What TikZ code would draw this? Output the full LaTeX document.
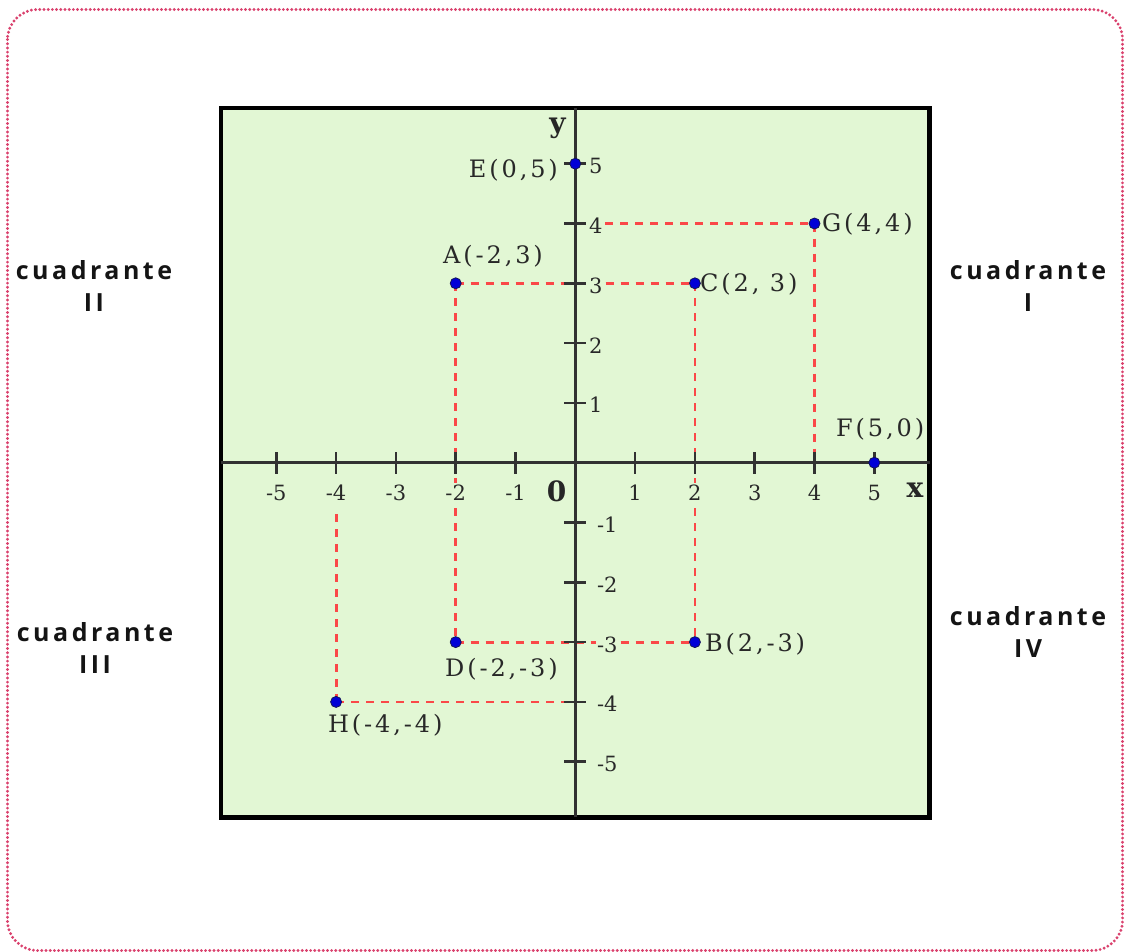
\documentclass[tikz,border=0pt]{standalone}
\usepackage{fontspec}
\newfontfamily\quadfont[LetterSpace=14, BoldFont={Open Sans Bold}]{Open Sans}
\newfontfamily\tickfontfam{DejaVu Serif}
\newfontfamily\labfontfam[LetterSpace=12]{DejaVu Serif}
\definecolor{plotbg}{RGB}{226,247,212}
\definecolor{dashred}{RGB}{250,72,72}
\definecolor{dotblue}{RGB}{0,0,215}
\definecolor{dotedge}{RGB}{20,20,90}
\definecolor{bordpink}{RGB}{218,66,110}
\definecolor{axisgray}{RGB}{50,50,50}
\definecolor{labgray}{RGB}{40,40,40}
\begin{document}
\begin{tikzpicture}[x=1pt,y=-1pt,
  border/.style={draw=bordpink, line width=3.2pt, dash pattern=on 0pt off 4.2pt, line cap=round, rounded corners=30pt},
  frame/.style={draw=black, fill=plotbg, line width=4.5pt},
  axisline/.style={draw=axisgray, line width=3pt},
  tickline/.style={draw=axisgray, line width=2.5pt},
  guide/.style={draw=dashred, line width=2.8pt, dash pattern=on 8pt off 7pt},
  ptdot/.style={circle, fill=dotblue, draw=dotedge, line width=0.8pt, minimum size=11pt, inner sep=0pt},
  ticklab/.style={font=\tickfontfam\fontsize{21}{24}\selectfont, text=labgray, fill=plotbg, inner sep=1pt},
  ptlab/.style={font=\labfontfam\fontsize{24}{28}\selectfont, text=labgray, inner sep=0pt},
  axlab/.style={font=\tickfontfam\bfseries\fontsize{28}{30}\selectfont, text=black!85, inner sep=0pt},
  quad/.style={font=\quadfont\bfseries\fontsize{25}{32}\selectfont, align=center, text=black!92, inner sep=0pt}]
\useasboundingbox (0,0) rectangle (1126,951);
\draw[border] (7.5,9.5) rectangle (1122.5,950.5);
\draw[frame] (221,108) rectangle (929.5,817.5);

\node[quad] (q2) at (94,286) {cuadrante\\II};
\node[quad] (q1) at (1028,286) {cuadrante\\I};
\node[quad] (q3) at (95,647.5) {cuadrante\\III};
\node[quad] (q4) at (1028,631.5) {cuadrante\\IV};

\begin{scope}[shift={(575.3pt,-462.7pt)}, x=59.8pt, y=59.8pt]
  \coordinate (O) at (0,0);
  \coordinate (A) at (-2,3);
  \coordinate (B) at (2,-3);
  \coordinate (C) at (2,3);
  \coordinate (D) at (-2,-3);
  \coordinate (E) at (0,5);
  \coordinate (F) at (5,0);
  \coordinate (G) at (4,4);
  \coordinate (H) at (-4,-4);
  \coordinate (Gy) at (0,4);
  \coordinate (Gx) at (4,0.13);
  \coordinate (Hy) at (0,-4);
  \coordinate (Hx) at (-4,-0.74);
  \coordinate (XL) at (-5.93,0);
  \coordinate (XR) at (5.93,0);
  \coordinate (YT) at (0,5.93);
  \coordinate (YB) at (0,-5.93);
  % guides
  \draw[guide] (A) -- (C);
  \draw[guide] (A) -- (D);
  \draw[guide] (C) -- (B);
  \draw[guide] (D) -- (B);
  \draw[guide] (Gy) -- (G);
  \draw[guide] (G) -- (Gx);
  \draw[guide] (H) -- (Hy);
  \draw[guide] (H) -- (Hx);
  % axes
  \draw[axisline] (XL) -- (XR);
  \draw[axisline] (YB) -- (YT);
  \foreach \i in {-5,-4,-3,-2,-1,1,2,3,4,5} {
    \draw[tickline] (\i,0) ++(0,-11pt) -- ++(0,22pt);
    \draw[tickline] (0,\i) ++(-11pt,0) -- ++(22pt,0);
    \node[ticklab, anchor=base, yshift=-37.3pt] (xl\i) at (\i,0) {\i};
  }
  \foreach \i in {1,2,3,4,5} {
    \node[ticklab, anchor=base west, xshift=12.5pt, yshift=-10pt] (yl\i) at (0,\i) {\i};
  }
  \foreach \i in {-1,-2,-3,-4,-5} {
    \node[ticklab, anchor=base west, xshift=20.5pt, yshift=-10pt] (yl\i) at (0,\i) {\i};
  }
  % points
  \foreach \p in {A,B,C,D,E,F,G,H} {
    \node[ptdot] (dot\p) at (\p) {};
  }
\end{scope}

\node[axlab] (zero) at (556.5,491.5) {0};
\node[axlab] (xname) at (915,490) {x};
\node[axlab] (yname) at (557.5,128) {y};

\node[ptlab, anchor=base east] (labE) at (558,177) {E(0,5)};
\node[ptlab, anchor=base west] (labA) at (443,263) {A(-2,3)};
\node[ptlab, anchor=base west] (labC) at (700,291) {C(2, 3)};
\node[ptlab, anchor=base west] (labG) at (822,231) {G(4,4)};
\node[ptlab, anchor=base west] (labF) at (836,436) {F(5,0)};
\node[ptlab, anchor=base west] (labB) at (705,651) {B(2,-3)};
\node[ptlab, anchor=base west] (labD) at (445,676) {D(-2,-3)};
\node[ptlab, anchor=base west] (labH) at (328,732) {H(-4,-4)};
\end{tikzpicture}
\end{document}
